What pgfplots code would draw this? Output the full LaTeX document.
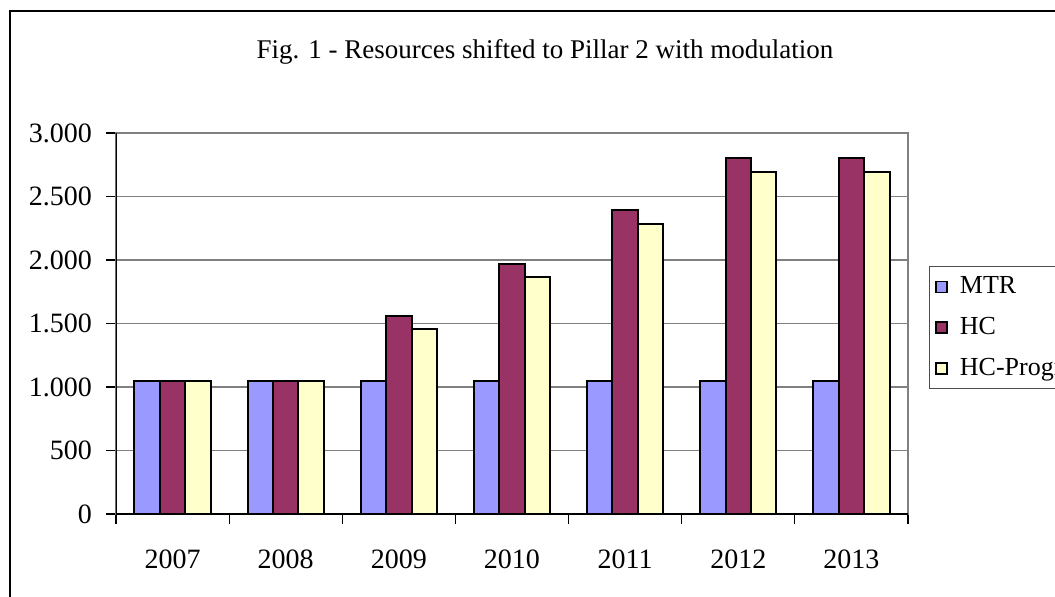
\documentclass[border=0pt]{standalone}
\usepackage{fontspec}
\setmainfont{Liberation Serif}
\usepackage{pgfplots}
\pgfplotsset{compat=1.18}
\definecolor{mtr}{HTML}{9999FF}
\definecolor{hc}{HTML}{993366}
\definecolor{hcp}{HTML}{FFFFCC}
\pgfplotstableread{
x MTR HC HCP
0 1045 1045 1045
1 1045 1045 1045
2 1045 1560 1455
3 1045 1970 1870
4 1045 2390 2285
5 1045 2800 2695
6 1045 2800 2695
}\datatable
\begin{document}
\begin{tikzpicture}[x=1pt,y=1pt]
\path[use as bounding box, clip] (0,0) rectangle (527.5,298);
\fill[white] (0,0) rectangle (527.5,298);
\draw[line width=1pt] (5,-10) rectangle (600,292.5);
\node[font=\fontsize{13.5}{16}\selectfont] at (272.5,272) {Fig. 1 - Resources shifted to Pillar 2 with modulation};
\begin{axis}[
  at={(58pt,41pt)}, anchor=south west,
  scale only axis, width=396pt, height=190.5pt,
  ybar=0pt, bar width=0.225,
  xmin=-0.5, xmax=6.5, ymin=0, ymax=3000,
  xtick={-0.5,0.5,...,6.5},
  xticklabels={2007,2008,2009,2010,2011,2012,2013},
  x tick label as interval=true,
  ytick={0,500,...,3000},
  /pgf/number format/1000 sep={.},
  /pgf/number format/assume math mode=true,
  tick align=outside, major tick length=5pt,
  tick style={black, line width=0.6pt},
  xtick pos=bottom, ytick pos=left,
  ymajorgrids, grid style={gray, line width=0.7pt},
  axis line style={gray, line width=0.7pt},
  tick label style={font=\fontsize{14}{16}\selectfont},
  xticklabel style={yshift=-9.5pt},
  yticklabel style={xshift=-3.5pt},
  legend style={at={(1.0265,0.65)}, anchor=north west, draw=black!70, line width=0.5pt,
    font=\fontsize{13}{15}\selectfont, row sep=6.3pt, inner sep=3pt,
    /tikz/every odd column/.append style={column sep=4pt}},
  legend cell align=left,
  legend image code/.code={\draw[#1, draw=black, line width=0.7pt] (2pt,-2.7pt) rectangle (7.5pt,2.8pt);},
]
\addplot[draw=black, line width=1pt, fill=mtr] table[x=x,y=MTR] {\datatable};
\addplot[draw=black, line width=1pt, fill=hc] table[x=x,y=HC] {\datatable};
\addplot[draw=black, line width=1pt, fill=hcp] table[x=x,y=HCP] {\datatable};
\legend{MTR,HC,HC-Progr.}
\draw[black, line width=0.7pt] (rel axis cs:0,0) -- (rel axis cs:0,1);
\draw[black, line width=0.7pt] (rel axis cs:0,0) -- (rel axis cs:1,0);
\end{axis}
\end{tikzpicture}
\end{document}
